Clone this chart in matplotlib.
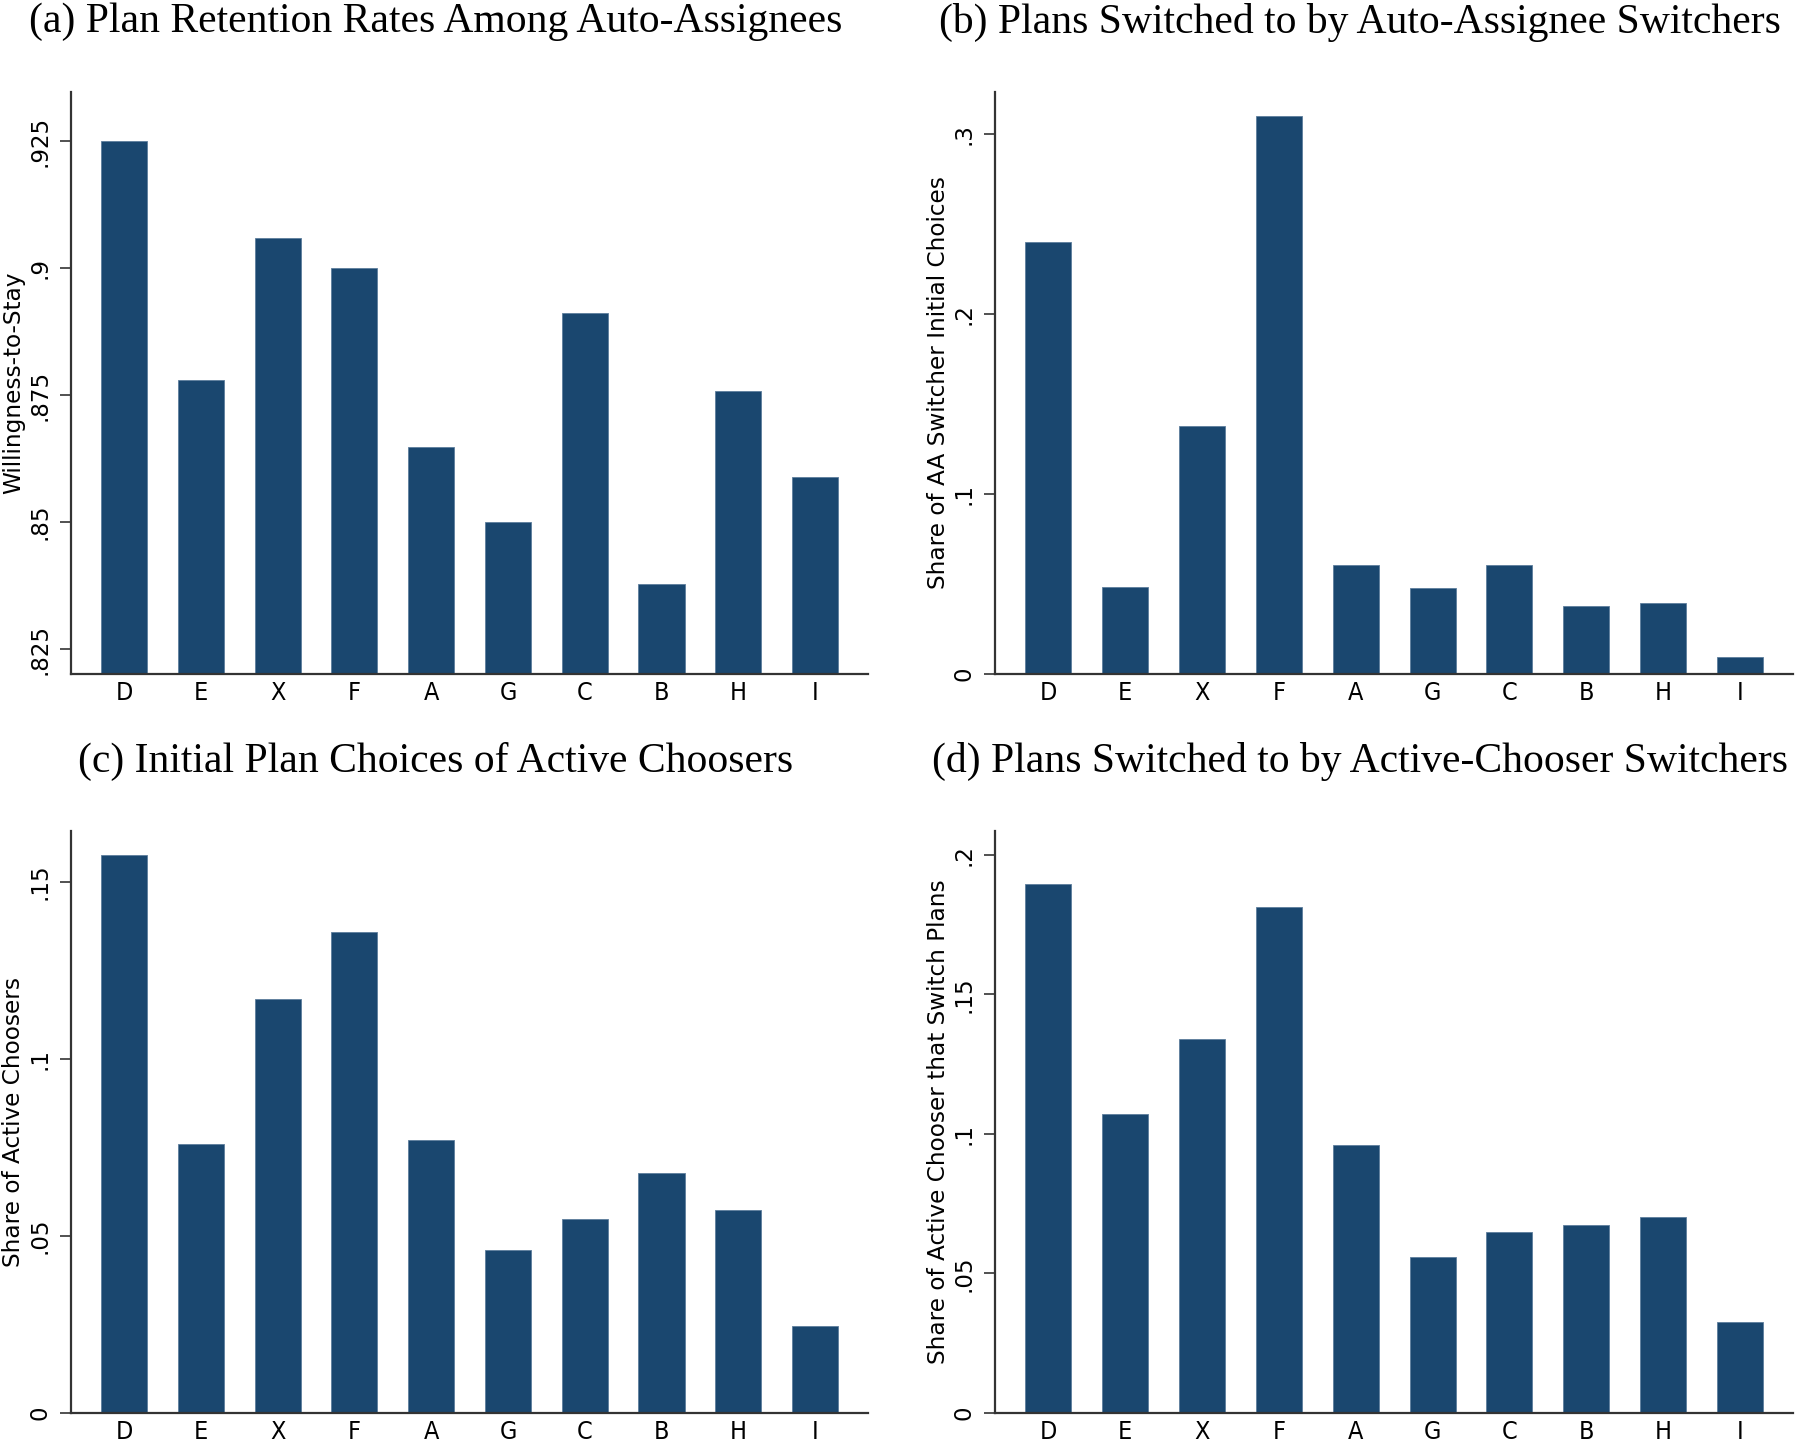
import matplotlib
matplotlib.use("Agg")
import matplotlib.pyplot as plt
from matplotlib.ticker import FixedLocator

plans = ["D", "E", "X", "F", "A", "G", "C", "B", "H", "I"]

retention_aa = [0.925, 0.8779, 0.906, 0.900, 0.8648, 0.850, 0.8911, 0.8379, 0.8759, 0.8589]
switch_to_aa = [0.240, 0.0485, 0.1378, 0.310, 0.0606, 0.0479, 0.0606, 0.0377, 0.0396, 0.0096]
initial_ac = [0.1575, 0.0758, 0.117, 0.1358, 0.0771, 0.046, 0.0548, 0.0677, 0.0574, 0.0246]
switch_to_ac = [0.1897, 0.107, 0.1342, 0.1815, 0.0959, 0.056, 0.065, 0.0675, 0.0704, 0.0325]

titles = [
    "(a) Plan Retention Rates Among Auto-Assignees",
    "(b) Plans Switched to by Auto-Assignee Switchers",
    "(c) Initial Plan Choices of Active Choosers",
    "(d) Plans Switched to by Active-Chooser Switchers",
]
ylabels = [
    "Willingness-to-Stay",
    "Share of AA Switcher Initial Choices",
    "Share of Active Choosers",
    "Share of Active Chooser that Switch Plans",
]
yticks = [
    [0.825, 0.85, 0.875, 0.9, 0.925],
    [0, 0.1, 0.2, 0.3],
    [0, 0.05, 0.1, 0.15],
    [0, 0.05, 0.1, 0.15, 0.2],
]
yticklabels = [
    [".825", ".85", ".875", ".9", ".925"],
    ["0", ".1", ".2", ".3"],
    ["0", ".05", ".1", ".15"],
    ["0", ".05", ".1", ".15", ".2"],
]
ylims = [(0.8201, 0.9347), (0, 0.3236), (0, 0.1643), (0, 0.2086)]
series = [retention_aa, switch_to_aa, initial_ac, switch_to_ac]

W, H = 1800, 1444
fig = plt.figure(figsize=(18, 14.44), dpi=100)

# axes rectangles in pixel coordinates: left, right, top, bottom
rects = [
    (71.2, 868, 91.8, 674),
    (995.3, 1793, 91.8, 674),
    (71.2, 868, 831, 1413),
    (995.3, 1793, 831, 1413),
]
title_pos = [(436, 22), (1360, 22), (436, 761), (1360, 761)]
bar_color = "#1a476f"
spine_color = "#333333"

for i in range(4):
    l, r, t, b = rects[i]
    ax = fig.add_axes([l / W, 1 - b / H, (r - l) / W, (b - t) / H])
    x = list(range(len(plans)))
    ymin = ylims[i][0]
    ax.bar(x, [v - ymin for v in series[i]], bottom=ymin, width=0.6,
           color=bar_color, edgecolor="#5d7d9c", linewidth=0.6, zorder=2)
    ax.set_xlim(-0.69, 9.69)
    ax.set_ylim(*ylims[i])
    ax.set_xticks(x)
    ax.set_xticklabels(plans, fontsize=18, family="DejaVu Sans", fontstretch="condensed")
    ax.yaxis.set_major_locator(FixedLocator(yticks[i]))
    ax.set_yticklabels(yticklabels[i], fontsize=16.5, rotation=90, va="center")
    ax.tick_params(axis="x", length=0, pad=5)
    ax.tick_params(axis="y", length=8, width=1.2, color=spine_color, pad=6)
    for s in ["top", "right"]:
        ax.spines[s].set_visible(False)
    for s in ["left", "bottom"]:
        ax.spines[s].set_color(spine_color)
        ax.spines[s].set_linewidth(1.6)
    ax.set_ylabel(ylabels[i], fontsize=16.7, va="center")
    lab_x = (14 if i % 2 == 0 else 938) - l
    ax.yaxis.set_label_coords(lab_x / (r - l), 0.5)
    tx, ty = title_pos[i]
    fig.text(tx / W, 1 - ty / H, titles[i], ha="center", va="center",
             fontsize=30, family=["Liberation Serif", "DejaVu Serif"])

fig.savefig("out.png", dpi=100)
